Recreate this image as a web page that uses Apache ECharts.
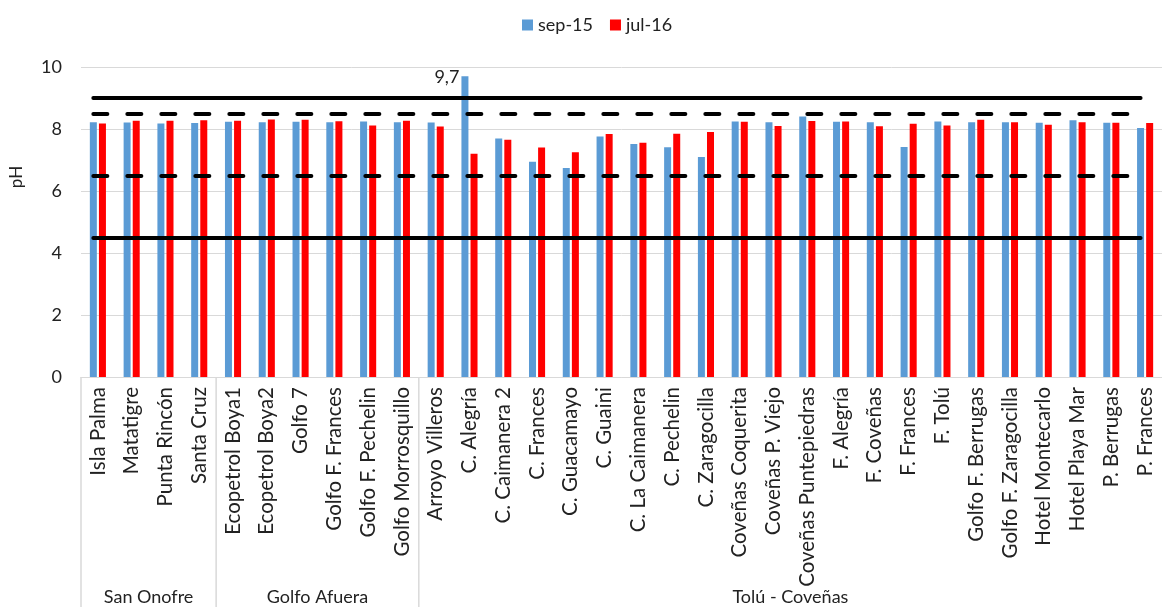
<!DOCTYPE html>
<html>
<head>
<meta charset="utf-8">
<script src="https://cdn.jsdelivr.net/npm/echarts@6/dist/echarts.min.js"></script>
<style>
  html, body { margin: 0; padding: 0; background: #fff; }
  #main { width: 1162px; height: 607px; }
</style>
</head>
<body>
<div id="main"></div>
<script>
// estaciones de muestreo
const stations = [
  'Isla Palma', 'Matatigre', 'Punta Rincón', 'Santa Cruz',
  'Ecopetrol Boya1', 'Ecopetrol Boya2', 'Golfo 7', 'Golfo F. Frances', 'Golfo F. Pechelin', 'Golfo Morrosquillo',
  'Arroyo Villeros', 'C. Alegría', 'C. Caimanera 2', 'C. Frances', 'C. Guacamayo', 'C. Guaini',
  'C. La Caimanera', 'C. Pechelin', 'C. Zaragocilla', 'Coveñas Coquerita', 'Coveñas P. Viejo',
  'Coveñas Puntepiedras', 'F. Alegría', 'F. Coveñas', 'F. Frances', 'F. Tolú', 'Golfo F. Berrugas',
  'Golfo F. Zaragocilla', 'Hotel Montecarlo', 'Hotel Playa Mar', 'P. Berrugas', 'P. Frances'
];
const sep15 = [
  8.22, 8.21, 8.18, 8.19,
  8.23, 8.22, 8.23, 8.22, 8.24, 8.22,
  8.21, 9.70, 7.69, 6.94, 6.74, 7.76,
  7.52, 7.41, 7.10, 8.24, 8.22,
  8.40, 8.23, 8.22, 7.42, 8.24, 8.22,
  8.22, 8.20, 8.28, 8.20, 8.03
];
const jul16 = [
  8.18, 8.27, 8.27, 8.28,
  8.27, 8.31, 8.30, 8.25, 8.11, 8.27,
  8.08, 7.20, 7.65, 7.40, 7.25, 7.84,
  7.56, 7.85, 7.90, 8.23, 8.10,
  8.26, 8.24, 8.09, 8.17, 8.11, 8.30,
  8.22, 8.14, 8.22, 8.20, 8.19
];
// zonas (indice inicial y final)
const groupNames = ['San Onofre', 'Golfo Afuera', 'Tolú - Coveñas'];
const groupStart = [0, 4, 10];
const groupEnd = [3, 9, 31];
// limites de referencia
const solidLimits = [9, 4.5];
const dashedLimits = [8.5, 6.5];
const yTicks = [0, 10, 2];

const FONT = 'Lato';
const FS = 18;
const chart = echarts.init(document.getElementById('main'));

const first = stations[0];
const last = stations[stations.length - 1];
const limitLines = [];
solidLimits.forEach(v => {
  limitLines.push([
    { coord: [first, v], lineStyle: { type: 'solid' } },
    { coord: [last, v] }
  ]);
});
dashedLimits.forEach(v => {
  limitLines.push([
    { coord: [first, v], lineStyle: { type: [14, 20] } },
    { coord: [last, v] }
  ]);
});

chart.setOption({
  animation: false,
  textStyle: { fontFamily: FONT },
  legend: {
    data: ['sep-15', 'jul-16'],
    top: 11,
    left: 517,
    itemWidth: 11,
    itemHeight: 11,
    itemGap: 17,
    icon: 'rect',
    textStyle: { fontSize: FS, color: '#222', fontFamily: FONT }
  },
  grid: { left: 81, right: -10, top: 67, bottom: 230 },
  xAxis: {
    type: 'category',
    data: stations,
    axisLine: { lineStyle: { color: '#d9d9d9' } },
    axisTick: { show: false },
    axisLabel: {
      rotate: 90,
      interval: 0,
      margin: 10,
      fontSize: 20.5,
      color: '#222',
      fontFamily: FONT
    }
  },
  yAxis: {
    type: 'value',
    min: yTicks[0],
    max: yTicks[1],
    interval: yTicks[2],
    name: 'pH',
    nameLocation: 'middle',
    nameGap: 56,
    nameTextStyle: { fontSize: FS - 1, color: '#222', padding: [0, 0, 0, 90] },
    axisLine: { show: false },
    axisTick: { show: false },
    axisLabel: { fontSize: FS, color: '#222', margin: 19 },
    splitLine: { lineStyle: { color: '#d9d9d9', width: 1 } }
  },
  series: [
    {
      name: 'sep-15',
      type: 'bar',
      data: sep15.map((v, i) => i === 11 ? {
        value: v,
        label: {
          show: true,
          position: [-27, -8],
          formatter: p => String(p.value).replace('.', ','),
          fontSize: FS,
          color: '#222',
          fontFamily: FONT
        }
      } : v),
      barWidth: 7,
      barGap: '30%',
      itemStyle: { color: '#5B9BD5' },
      markLine: {
        silent: true,
        symbol: 'none',
        label: { show: false },
        lineStyle: { color: '#000', width: 4, cap: 'round' },
        data: limitLines
      },
      z: 2
    },
    {
      name: 'jul-16',
      type: 'bar',
      data: jul16,
      barWidth: 7,
      barGap: '30%',
      itemStyle: { color: '#FF0000' },
      z: 2
    },
    {
      type: 'custom',
      silent: true,
      clip: false,
      data: groupNames.map((n, i) => [groupStart[i], groupEnd[i], n]),
      encode: { x: [0, 1] },
      renderItem: (params, api) => {
        const s = api.value(0);
        const e = api.value(1);
        const bw = api.size([1, 0])[0];
        const p0 = api.coord([s, 0]);
        const p1 = api.coord([e, 0]);
        const x0 = p0[0] - bw / 2;
        const x1 = p1[0] + bw / 2;
        const h = api.getHeight();
        return {
          type: 'group',
          children: [
            {
              type: 'line',
              shape: { x1: x0, y1: p0[1], x2: x0, y2: h },
              style: { stroke: '#d9d9d9', lineWidth: 1.5 }
            },
            {
              type: 'text',
              style: {
                text: groupNames[params.dataIndex],
                x: (x0 + x1) / 2,
                y: h - 10,
                align: 'center',
                verticalAlign: 'middle',
                fontSize: FS,
                fontFamily: FONT,
                fill: '#222'
              }
            }
          ]
        };
      }
    }
  ]
});
</script>
</body>
</html>
